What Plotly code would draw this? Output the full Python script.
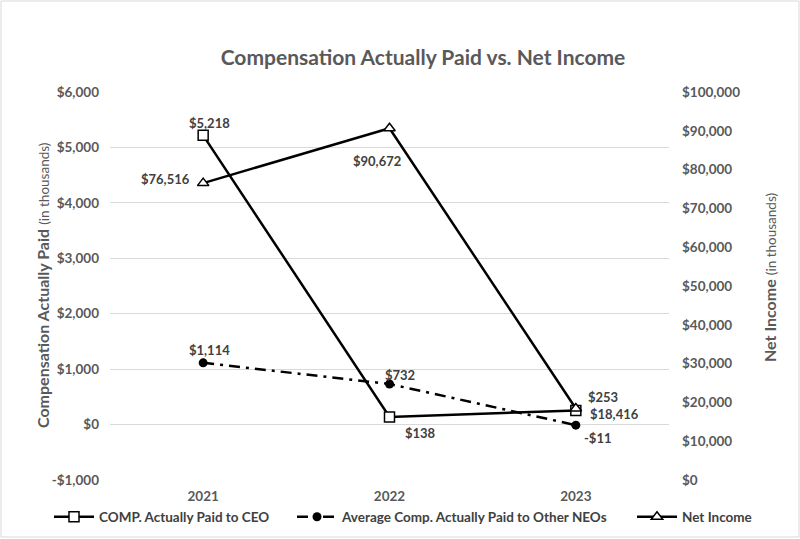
import plotly.graph_objects as go

years = ["2021", "2022", "2023"]
ceo_cap = [5218, 138, 253]
neo_cap = [1114, 732, -11]
net_income = [76516, 90672, 18416]

left_ticks = [-1000, 0, 1000, 2000, 3000, 4000, 5000, 6000]
left_labels = ["-$1,000", "$0", "$1,000", "$2,000", "$3,000", "$4,000", "$5,000", "$6,000"]
right_ticks = list(range(0, 100001, 10000))
right_labels = ["$0", "$10,000", "$20,000", "$30,000", "$40,000", "$50,000",
                "$60,000", "$70,000", "$80,000", "$90,000", "$100,000"]


def money(v):
    return ("-$" if v < 0 else "$") + f"{abs(v):,}"


GRAY = "#595959"
LABEL = "#404040"
FONT = "Lato"

W, H = 800, 539
L, R, T, B = 110, 131, 92, 59
pw, ph = W - L - R, H - T - B

fig = go.Figure()

fig.add_trace(go.Scatter(
    x=years, y=ceo_cap, name="COMP. Actually Paid to CEO",
    mode="lines+markers", legend="legend",
    line=dict(color="black", width=2.5),
    marker=dict(symbol="square", size=10, color="white", line=dict(color="black", width=1.5)),
))
fig.add_trace(go.Scatter(
    x=years, y=neo_cap, name="Average Comp. Actually Paid to Other NEOs",
    mode="lines+markers", legend="legend2",
    line=dict(color="black", width=2.5, dash="11px,6px,3px,6px"),
    marker=dict(symbol="circle", size=9, color="black"),
))
fig.add_trace(go.Scatter(
    x=years, y=net_income, name="Net Income", yaxis="y2",
    mode="lines+markers", legend="legend3",
    line=dict(color="black", width=2.5),
    marker=dict(symbol="triangle-up", size=10, color="white", line=dict(color="black", width=1.5)),
))

# data labels (style: pixel offsets from each marker); x uses category index
label_style = [
    ("y", ceo_cap, [(6, 12, "center"), (31, -16, "center"), (27, 14, "center")]),
    ("y", neo_cap, [(6, 13, "center"), (10, 9, "center"), (22, -13, "center")]),
    ("y2", net_income, [(-11, 4, "right"), (-13, -33, "center"), (12, -5, "left")]),
]
for yref, values, offs in label_style:
    for i, (yv, (dx, dy, anchor)) in enumerate(zip(values, offs)):
        fig.add_annotation(x=i, y=yv, xref="x", yref=yref, text=money(yv),
                           showarrow=False, xshift=dx, yshift=dy, xanchor=anchor,
                           yanchor="middle",
                           font=dict(size=13, color=LABEL, family=FONT, weight="bold"))


def legend_at(px):
    return dict(orientation="h", xref="container", yref="container",
                x=px / W, xanchor="left", y=1 - 517 / H, yanchor="middle",
                bgcolor="rgba(0,0,0,0)",
                font=dict(size=13.5, color=LABEL, family=FONT, weight="bold"),
                itemwidth=40)


fig.update_layout(
    width=W, height=H,
    margin=dict(l=L, r=R, t=T, b=B, autoexpand=False),
    paper_bgcolor="white", plot_bgcolor="white",
    font=dict(family=FONT, color=GRAY, size=12),
    title=dict(text="<b>Compensation Actually Paid vs. Net Income</b>",
               x=423 / W, xanchor="center", y=1 - 58 / H, yanchor="middle",
               xref="container", yref="container",
               font=dict(size=21, color=GRAY, family=FONT)),
    xaxis=dict(type="category", range=[-0.5, 2.5], showgrid=False, zeroline=False,
               showline=False, ticks="", automargin=False, ticklabelstandoff=6,
               tickfont=dict(size=13.5, color=GRAY, family=FONT, weight="bold")),
    yaxis=dict(range=[-1000, 6000], tickvals=left_ticks, ticktext=left_labels,
               showgrid=True, gridcolor="#d9d9d9", gridwidth=1, zeroline=False,
               showline=False, automargin=False, ticklabelstandoff=10,
               tickfont=dict(size=13.5, color=GRAY, family=FONT, weight="bold")),
    yaxis2=dict(range=[0, 100000], tickvals=right_ticks, ticktext=right_labels,
                overlaying="y", side="right", showgrid=False, zeroline=False,
                showline=False, automargin=False, ticklabelstandoff=12,
                tickfont=dict(size=13.5, color=GRAY, family=FONT, weight="bold")),
    legend=legend_at(49),
    legend2=legend_at(292),
    legend3=legend_at(632),
    showlegend=True,
)

# axis titles
fig.add_annotation(xref="paper", yref="paper", x=(42 - L) / pw, y=(480 - 286) / ph,
                   text="<b>Compensation Actually Paid</b> <span style='font-size:13.5px'>(in thousands)</span>",
                   textangle=-90, showarrow=False, xanchor="center", yanchor="middle",
                   font=dict(size=16, color=GRAY, family=FONT))
fig.add_annotation(xref="paper", yref="paper", x=(769 - L) / pw, y=(480 - 278) / ph,
                   text="<b>Net Income</b> <span style='font-size:13.5px'>(in thousands)</span>",
                   textangle=-90, showarrow=False, xanchor="center", yanchor="middle",
                   font=dict(size=16, color=GRAY, family=FONT))

fig.add_shape(type="rect", xref="paper", yref="paper",
              x0=(1 - L) / pw, x1=(W - 1 - L) / pw,
              y0=(H - B - (H - 2)) / ph, y1=(H - B - 1) / ph,
              line=dict(color="#d9d9d9", width=1), fillcolor="rgba(0,0,0,0)", layer="below")

fig.write_html("out.html", config={"displayModeBar": False},
               post_script="document.body.style.margin='0';document.body.style.overflow='hidden';")
